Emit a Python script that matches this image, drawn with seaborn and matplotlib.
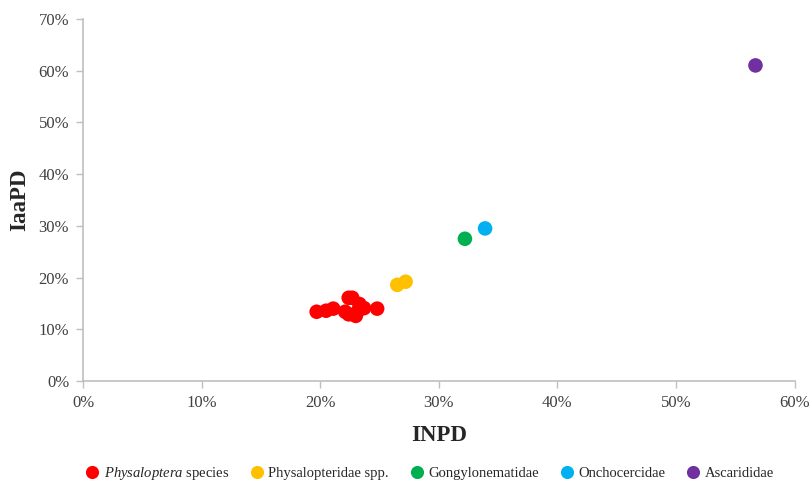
import matplotlib
matplotlib.use('Agg')
import matplotlib.pyplot as plt
import seaborn as sns
import pandas as pd
from matplotlib.ticker import PercentFormatter

# dados (%)
physaloptera_x = [19.7, 20.5, 21.1, 22.1, 22.4, 22.7, 23.0, 22.4, 23.3, 23.7, 24.8, 23.2]
physaloptera_y = [13.4, 13.6, 14.0, 13.4, 16.1, 16.1, 12.6, 12.9, 14.9, 14.1, 14.0, 13.6]
physalopteridae_x = [26.5, 27.2]
physalopteridae_y = [18.6, 19.2]
gongylonematidae_x = [32.2]
gongylonematidae_y = [27.5]
onchocercidae_x = [33.9]
onchocercidae_y = [29.5]
ascarididae_x = [56.7]
ascarididae_y = [61.0]

grupos = ['$\\it{Physaloptera}$ species', 'Physalopteridae spp.', 'Gongylonematidae',
          'Onchocercidae', 'Ascarididae']
cores = ['#ff0000', '#ffc000', '#00b050', '#00b0f0', '#7030a0']

xs = [physaloptera_x, physalopteridae_x, gongylonematidae_x, onchocercidae_x, ascarididae_x]
ys = [physaloptera_y, physalopteridae_y, gongylonematidae_y, onchocercidae_y, ascarididae_y]
linhas = []
for g, x, y in zip(grupos, xs, ys):
    for a, b in zip(x, y):
        linhas.append({'grupo': g, 'INPD': a, 'IaaPD': b})
df = pd.DataFrame(linhas)

sns.set_style('white')
plt.rcParams['font.family'] = ['Liberation Serif', 'DejaVu Serif']
plt.rcParams['mathtext.fontset'] = 'custom'
plt.rcParams['mathtext.it'] = 'Liberation Serif:italic'
plt.rcParams['mathtext.rm'] = 'Liberation Serif'

fig = plt.figure(figsize=(8.1, 4.83), dpi=100)
ax = fig.add_axes([0.1025, 0.211, 0.8785, 0.75])

sns.scatterplot(data=df, x='INPD', y='IaaPD', hue='grupo', palette=cores,
                hue_order=grupos, s=110, edgecolor='none', ax=ax, legend=True)

ax.set_xlim(0, 60)
ax.set_ylim(0, 70)
ax.set_xticks(range(0, 61, 10))
ax.set_yticks(range(0, 71, 10))
ax.xaxis.set_major_formatter(PercentFormatter(decimals=0))
ax.yaxis.set_major_formatter(PercentFormatter(decimals=0))

for s in ['top', 'right']:
    ax.spines[s].set_visible(False)
for s in ['left', 'bottom']:
    ax.spines[s].set_color('#bfbfbf')
    ax.spines[s].set_linewidth(1.2)
ax.tick_params(axis='both', which='major', length=5, width=1, color='#bfbfbf',
               labelsize=12, labelcolor='#404040', direction='out', pad=5, bottom=True, left=True)

ax.set_xlabel('INPD', fontsize=16.5, fontweight='bold', labelpad=10)
ax.set_ylabel('IaaPD', fontsize=16.5, fontweight='bold', labelpad=6)

h, l = ax.get_legend_handles_labels()
ax.legend(h, l, loc='center', bbox_to_anchor=(0.53, 0.02), bbox_transform=fig.transFigure,
          ncol=5, frameon=False, fontsize=10.5, handlelength=1.0, handletextpad=0.3,
          columnspacing=1.4, markerscale=0.9, borderpad=0)

fig.savefig('out.png', dpi=100)
